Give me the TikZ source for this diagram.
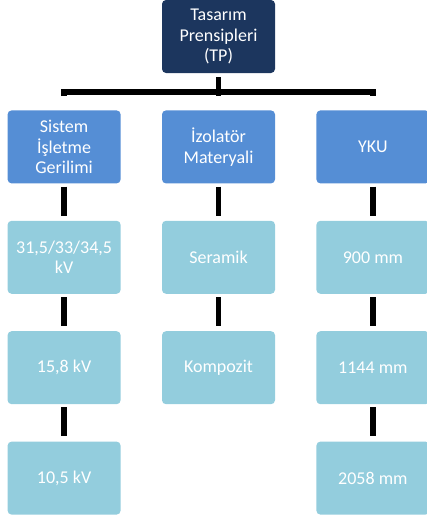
\documentclass[tikz,border=0pt]{standalone}
\usepackage{fontspec}
\setmainfont{Carlito}
\usetikzlibrary{positioning}

\definecolor{tpnavy}{HTML}{1C365E}
\definecolor{mainblue}{HTML}{558ED5}
\definecolor{subblue}{HTML}{93CDDD}

\begin{document}
\begin{tikzpicture}[
  x=1pt, y=1pt,
  node distance=37pt and 41pt,
  box/.style={rounded corners=4pt, minimum width=113pt, minimum height=73pt,
              align=center, text=white, font=\fontsize{18}{20.5}\selectfont, fill=mainblue},
  sub/.style={box, fill=subblue},
  conn/.style={line width=5.5pt, shorten <=3pt, shorten >=5pt}
]
  \useasboundingbox (0,0) rectangle (426,-519);

  % Kok
  \node[box, fill=tpnavy] (tp) at (218.5,-36.5) {Tasarım\\Prensipleri\\(TP)};
  \coordinate (bus) at (218.5,-92);

  % Ana basliklar
  \node[box, below=of tp] (iz) {İzolatör\\Materyali};
  \node[box, left=of iz] (sig) {Sistem\\İşletme\\Gerilimi};
  \node[box, right=of iz] (yku) {YKU};

  % Alt kutular
  \node[sub, below=of sig] (v1) {31,5/33/34,5\\kV};
  \node[sub, below=of v1] (v2) {15,8 kV};
  \node[sub, below=of v2] (v3) {10,5 kV};
  \node[sub, below=of iz] (m1) {Seramik};
  \node[sub, below=of m1] (m2) {Kompozit};
  \node[sub, below=of yku] (y1) {900 mm};
  \node[sub, below=of y1] (y2) {1144 mm};
  \node[sub, below=of y2] (y3) {2058 mm};

  \draw[conn, shorten <=4pt, shorten >=14pt] (tp.south) -- (iz.north);
  \draw[conn, shorten <=14pt, shorten >=14pt] (sig.north) |- (bus) -| (yku.north);

  \draw[conn] (sig) -- (v1);
  \draw[conn] (v1) -- (v2);
  \draw[conn] (v2) -- (v3);
  \draw[conn] (iz) -- (m1);
  \draw[conn] (m1) -- (m2);
  \draw[conn] (yku) -- (y1);
  \draw[conn] (y1) -- (y2);
  \draw[conn] (y2) -- (y3);
\end{tikzpicture}
\end{document}
